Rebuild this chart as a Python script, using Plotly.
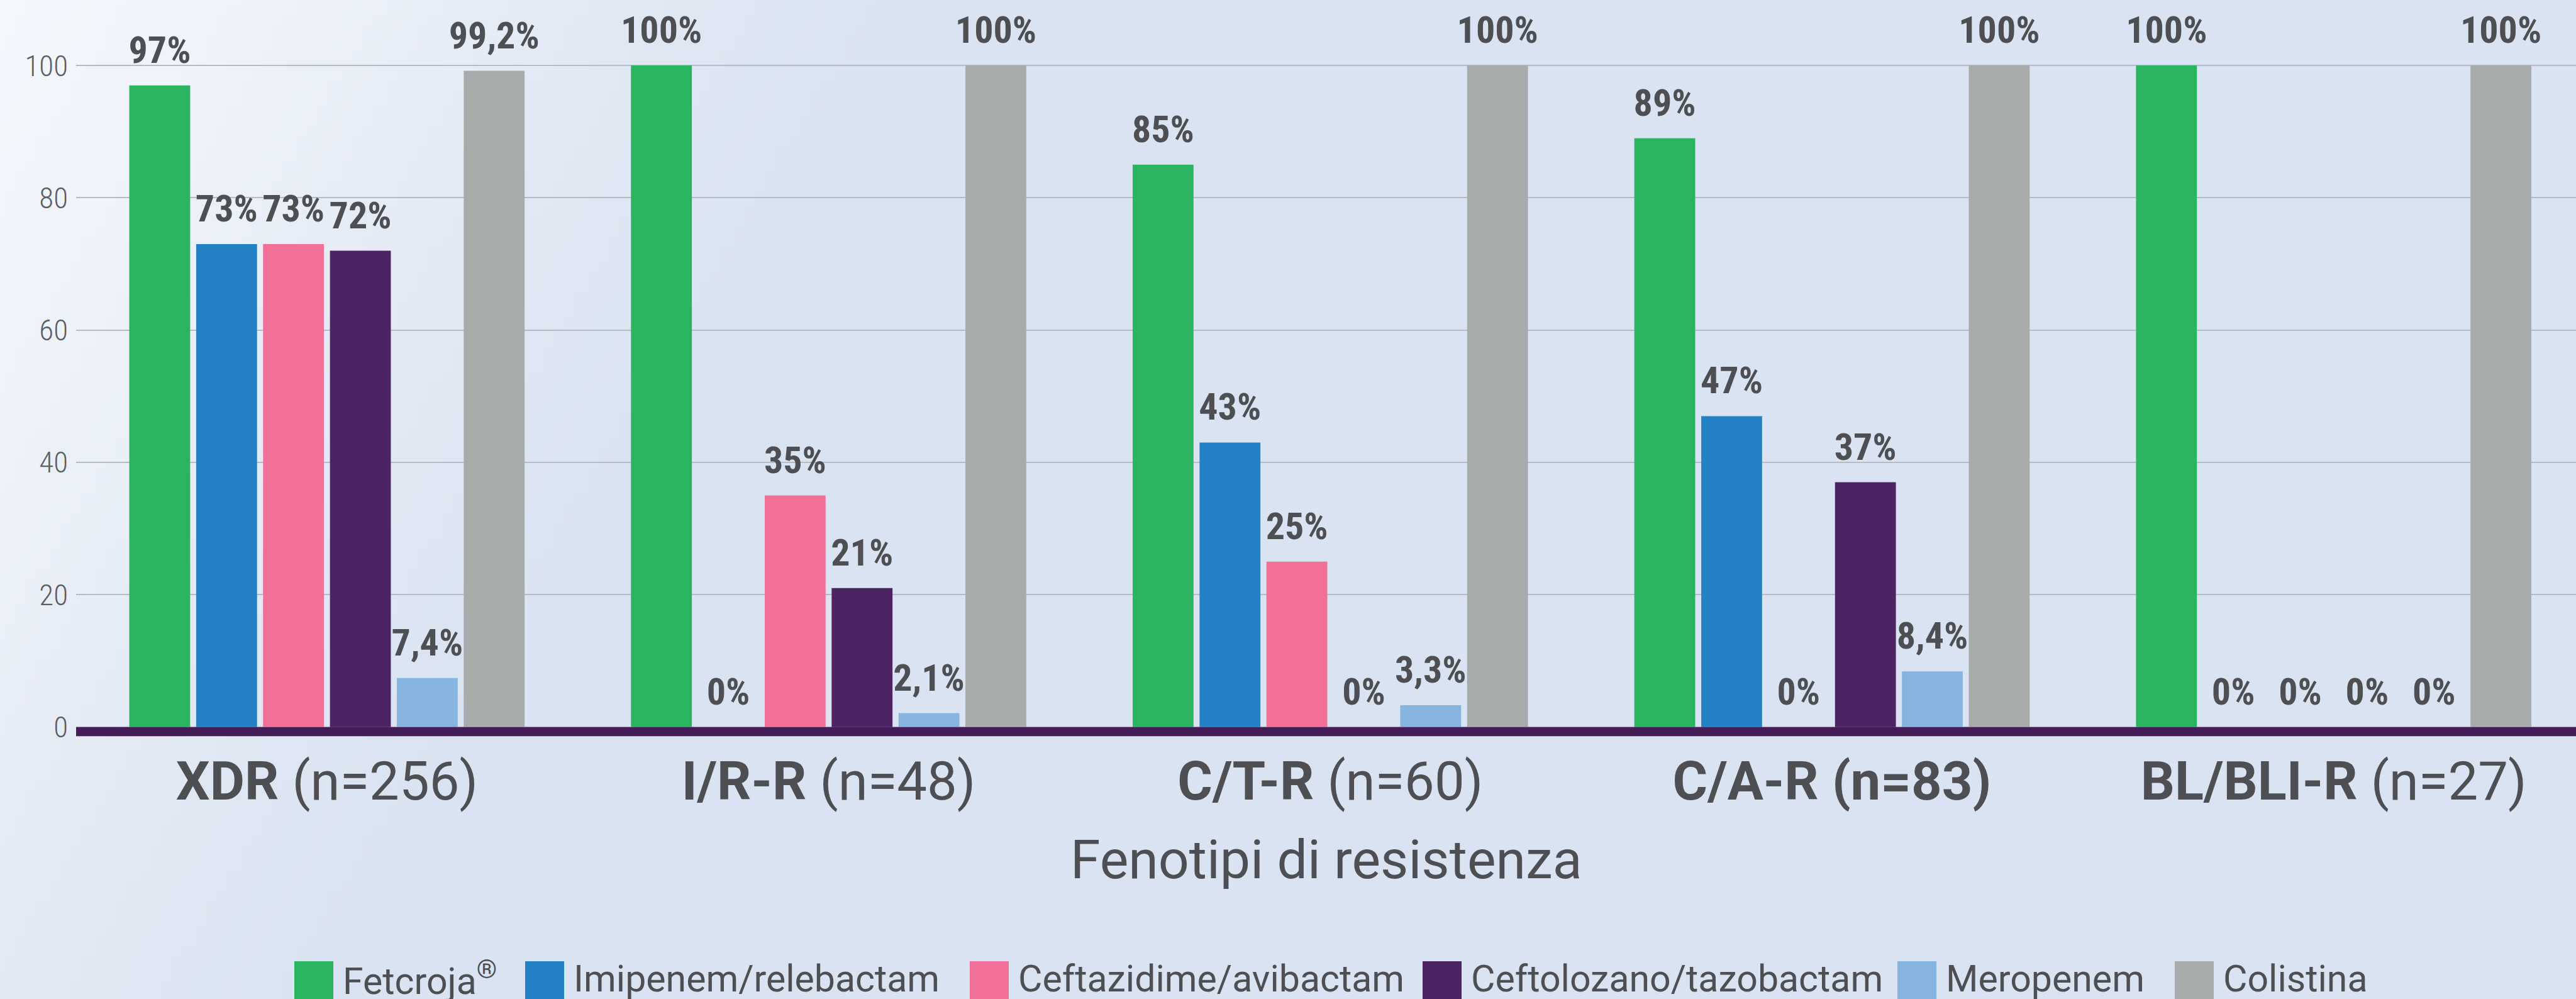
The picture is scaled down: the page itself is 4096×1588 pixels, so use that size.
import base64, struct, zlib
import plotly.graph_objects as go

# ---------------- data ----------------
categories = ["XDR (n=256)", "I/R-R (n=48)", "C/T-R (n=60)", "C/A-R (n=83)", "BL/BLI-R (n=27)"]
category_labels = ["<b>XDR</b> (n=256)", "<b>I/R-R</b> (n=48)", "<b>C/T-R</b> (n=60)",
                   "<b>C/A-R (n=83)</b>", "<b>BL/BLI-R</b> (n=27)"]
series_names = ["Fetcroja<sup>®</sup>", "Imipenem/relebactam", "Ceftazidime/avibactam",
                "Ceftolozano/tazobactam", "Meropenem", "Colistina"]
fetcroja = [97, 100, 85, 89, 100]
imipenem_relebactam = [73, 0, 43, 47, 0]
ceftazidime_avibactam = [73, 35, 25, 0, 0]
ceftolozano_tazobactam = [72, 21, 0, 37, 0]
meropenem = [7.4, 2.1, 3.3, 8.4, 0]
colistina = [99.2, 100, 100, 100, 100]
series_values = [fetcroja, imipenem_relebactam, ceftazidime_avibactam,
                 ceftolozano_tazobactam, meropenem, colistina]
y_ticks = [0, 20, 40, 60, 80, 100]

# ---------------- style ----------------
colors = ["#2bb45f", "#2481c6", "#f07098", "#4c2464", "#88b5df", "#a7acab"]
W, H = 4096, 1588
ML, MR, MT, MB = 121, 0, 0, 411
PW, PH = W - ML - MR, H - MT - MB
Y_RANGE = [-2.03, 109.9]
PX_PER_UNIT = PH / (Y_RANGE[1] - Y_RANGE[0])
LABEL_LIFT = 18.0 / PX_PER_UNIT       # gap between bar top and value label
BAND = 14.5 / PX_PER_UNIT             # thick baseline band
TXT = "#4d4f53"
COND = "Roboto Condensed, Roboto, sans-serif"
SANS = "Roboto, Lato, Noto Sans, sans-serif"


def xp(px):
    return (px - ML) / PW


def yp(py):
    return (MT + PH - py) / PH


def fmt(v):
    return (f"{v:g}%").replace(".", ",")


# background gradient as a tiny PNG
def gradient_png(w=230, h=90):
    c0 = (244, 247, 252)
    c1 = (218, 227, 241)
    rows = []
    for j in range(h):
        row = bytearray([0])
        for i in range(w):
            X = i / (w - 1) * 4524
            Y = j / (h - 1) * 1754
            t = min(1.0, (X + 0.6 * Y) / 1620.0)
            t = t * t * (3 - 2 * t) * 0.5 + t * 0.5
            row += bytes(int(round(c0[k] + (c1[k] - c0[k]) * t)) for k in range(3))
        rows.append(bytes(row))
    raw = b"".join(rows)

    def chunk(tag, data):
        c = struct.pack(">I", len(data)) + tag + data
        return c + struct.pack(">I", zlib.crc32(tag + data) & 0xFFFFFFFF)

    png = b"\x89PNG\r\n\x1a\n" + chunk(b"IHDR", struct.pack(">IIBBBBB", w, h, 8, 2, 0, 0, 0))
    png += chunk(b"IDAT", zlib.compress(raw, 9)) + chunk(b"IEND", b"")
    return "data:image/png;base64," + base64.b64encode(png).decode()


fig = go.Figure()
for i, (name, vals) in enumerate(zip(series_names, series_values)):
    fig.add_trace(go.Bar(
        x=categories, y=vals, name=name, offsetgroup=str(i),
        marker=dict(color=colors[i], line=dict(width=0)),
        textposition="none", showlegend=False, hoverinfo="y"))
    # transparent carrier bar to lift the value label above each bar
    fig.add_trace(go.Bar(
        x=categories, y=[LABEL_LIFT] * len(vals), base=vals, offsetgroup=str(i),
        marker=dict(color="rgba(0,0,0,0)", line=dict(width=0)),
        text=[fmt(v) for v in vals], textposition="outside", textangle=0,
        constraintext="none", cliponaxis=False,
        textfont=dict(family=COND, size=60, color=TXT, weight="bold"),
        showlegend=False, hoverinfo="skip"))

shapes = [dict(type="rect", xref="paper", yref="y", x0=0, x1=1, y0=-BAND, y1=0,
               fillcolor="#441c58", line=dict(width=0), layer="above")]
annotations = [dict(text="Fenotipi di resistenza", xref="paper", yref="paper",
                    x=0.5, y=yp(1366), xanchor="center", yanchor="middle", showarrow=False,
                    font=dict(family=SANS, size=86, color=TXT))]

# custom legend (large square swatches)
legend_x = [468, 835, 1542, 2262, 3017, 3458]
SW = 62
for i, name in enumerate(series_names):
    x0 = legend_x[i]
    shapes.append(dict(type="rect", xref="paper", yref="paper",
                       x0=xp(x0), x1=xp(x0 + SW), y0=yp(1592), y1=yp(1528),
                       fillcolor=colors[i], line=dict(width=0), layer="above"))
    annotations.append(dict(text=name, xref="paper", yref="paper",
                            x=xp(x0 + SW + 13), y=yp(1555), xanchor="left", yanchor="middle",
                            showarrow=False, font=dict(family=SANS, size=59, color=TXT)))

fig.update_layout(
    width=W, height=H,
    margin=dict(l=ML, r=MR, t=MT, b=MB, pad=0),
    barmode="group", bargap=0.2, bargroupgap=0.09,
    paper_bgcolor="#dae3f1", plot_bgcolor="rgba(0,0,0,0)",
    showlegend=False,
    shapes=shapes, annotations=annotations,
    images=[dict(source=gradient_png(), xref="paper", yref="paper",
                 x=xp(0), y=yp(0), sizex=xp(W) - xp(0), sizey=yp(0) - yp(H),
                 xanchor="left", yanchor="top", sizing="stretch", layer="below")],
    xaxis=dict(range=[-0.5, 4.483], tickmode="array",
               tickvals=categories, ticktext=category_labels,
               showgrid=False, zeroline=False, showline=False, ticks="",
               ticklabelstandoff=8,
               tickfont=dict(family=SANS, size=85, color=TXT)),
    yaxis=dict(range=Y_RANGE, tickmode="array", tickvals=y_ticks,
               showgrid=True, gridcolor="#b6bcc3", gridwidth=2,
               zeroline=False, showline=False, ticks="", ticklabelstandoff=12,
               tickfont=dict(family=COND, size=47, color="#5b5e62", weight=300)),
)

fig.write_html("out.html", config={"displayModeBar": False},
               post_script="document.body.style.margin='0px';document.body.style.overflow='hidden';")
